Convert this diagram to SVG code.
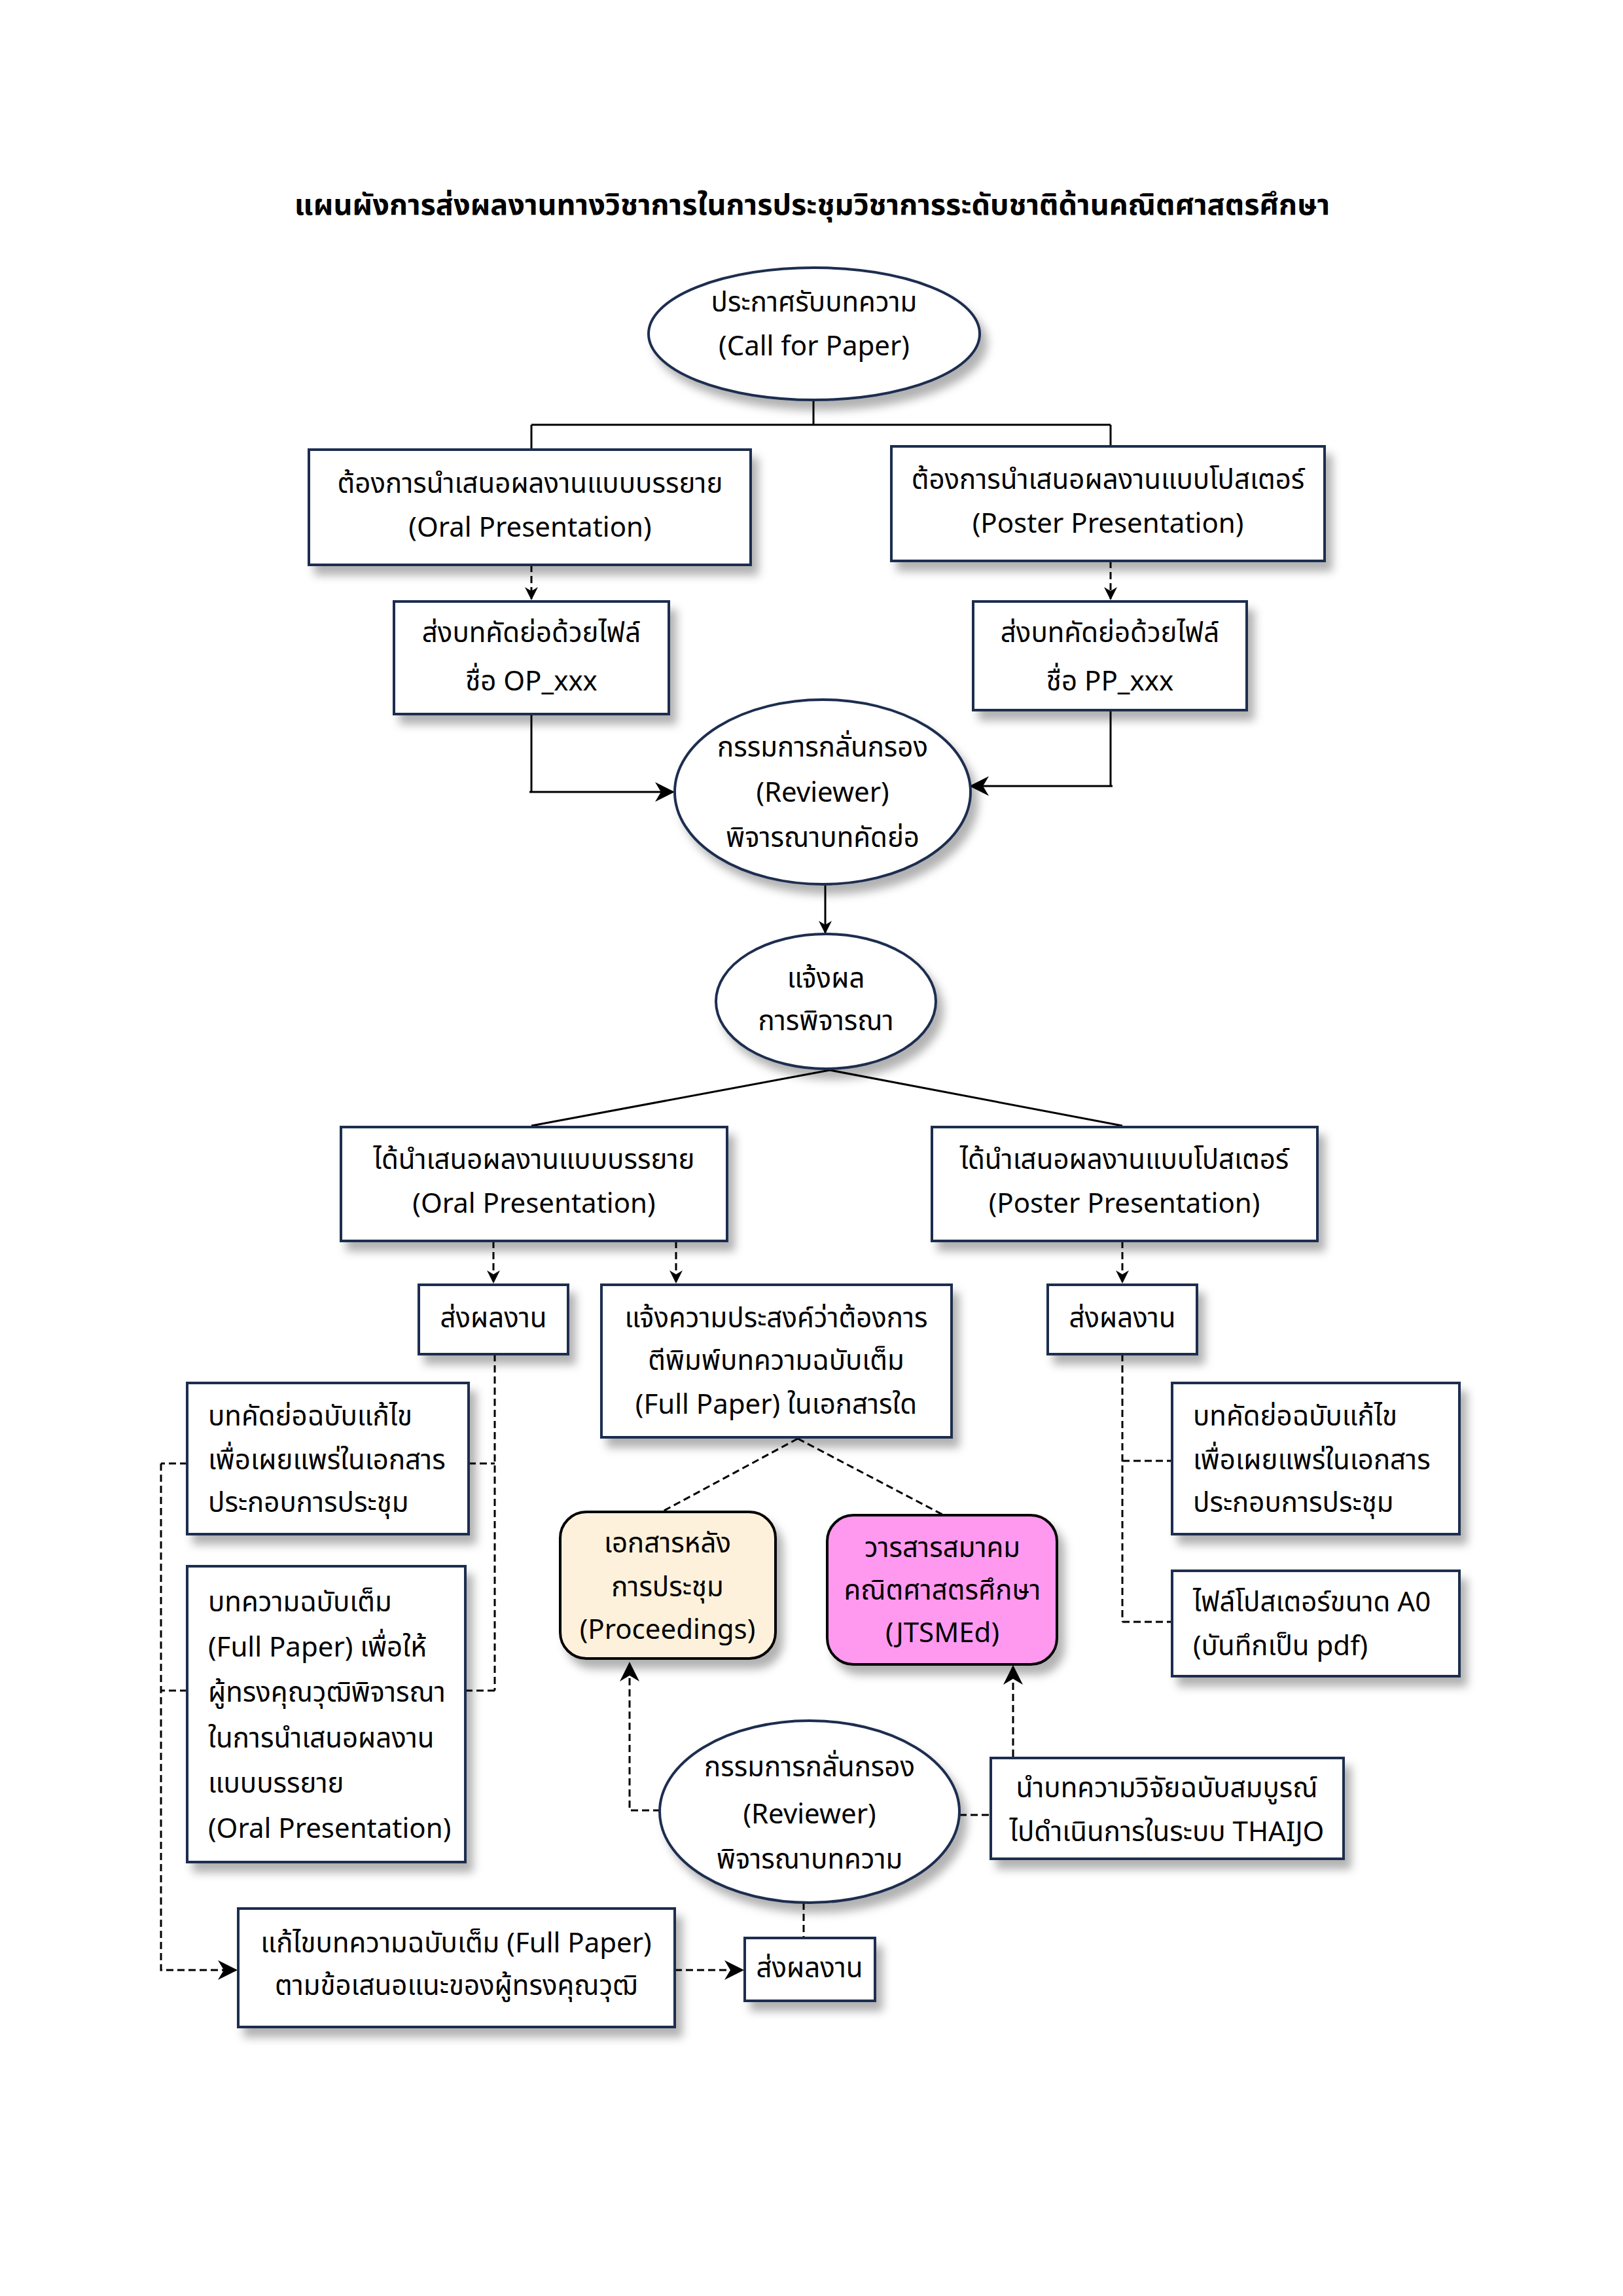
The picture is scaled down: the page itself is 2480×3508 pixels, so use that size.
<svg xmlns="http://www.w3.org/2000/svg" width="2480" height="3508" viewBox="0 0 2480 3508">
<defs>
<filter id="sh" x="-10%" y="-10%" width="130%" height="140%">
<feDropShadow dx="10" dy="14" stdDeviation="7" flood-color="#000" flood-opacity="0.3"/>
</filter>
<marker id="ah" viewBox="0 0 20 20" refX="18" refY="10" markerWidth="20" markerHeight="20" markerUnits="userSpaceOnUse" orient="auto">
<path d="M0,0 L20,10 L0,20 L6,10 Z" fill="#000"/>
</marker>
<marker id="ahb" viewBox="0 0 20 20" refX="18" refY="10" markerWidth="30" markerHeight="30" markerUnits="userSpaceOnUse" orient="auto">
<path d="M0,0 L20,10 L0,20 L6,10 Z" fill="#000"/>
</marker>
</defs>
<style>
text{font-family:"Noto Sans Thai","Noto Sans","Liberation Sans",sans-serif;font-size:42px;fill:#000}
.c{text-anchor:middle}
.t{font-size:45px;font-weight:bold}
.bx{fill:#fff;stroke:#1f2d4f;stroke-width:4}
.el{fill:#fff;stroke:#1f2d4f;stroke-width:4}
.ln{fill:none;stroke:#000;stroke-width:3}
.dl{fill:none;stroke:#000;stroke-width:3;stroke-dasharray:11 6}
</style>
<rect width="2480" height="3508" fill="#fff"/>
<text class="c t" x="1241" y="328">แผนผังการส่งผลงานทางวิชาการในการประชุมวิชาการระดับชาติด้านคณิตศาสตรศึกษา</text>

<g id="connectors">
<path class="ln" d="M1243,611 V649 M812,649 H1697 M812,649 V687 M1697,649 V682"/>
<path class="dl" d="M812,863 V915" marker-end="url(#ah)"/>
<path class="dl" d="M1697,857 V915" marker-end="url(#ah)"/>
<path class="ln" d="M812,1091 V1210"/>
<path class="ln" stroke-width="7" d="M809,1210 H1028" marker-end="url(#ahb)"/>
<path class="ln" d="M1697,1085 V1201"/>
<path class="ln" stroke-width="7" d="M1700,1201 H1484" marker-end="url(#ahb)"/>
<path class="ln" d="M1261,1353 V1425" marker-end="url(#ah)"/>
<path class="ln" stroke-width="7" d="M1268,1635 L812,1720 M1268,1635 L1715,1720"/>
<path class="dl" d="M754,1896 V1959" marker-end="url(#ah)"/>
<path class="dl" d="M1033,1896 V1959" marker-end="url(#ah)"/>
<path class="dl" d="M1715,1896 V1959" marker-end="url(#ah)"/>
<path class="dl" d="M756,2069 V2583 M716,2236 H756 M711,2583 H756"/>
<path class="dl" d="M286,2236 H246 M286,2583 H246 M246,2236 V3010 H360" marker-end="url(#ahb)"/>
<path class="dl" d="M1219,2198 L1011,2310 M1219,2198 L1442,2315"/>
<path class="dl" d="M1009,2766 H962 V2542" marker-end="url(#ahb)"/>
<path class="dl" d="M1466,2773 H1514"/>
<path class="dl" d="M1548,2684 V2547" marker-end="url(#ahb)"/>
<path class="dl" d="M1228,2907 V2961"/>
<path class="dl" d="M1031,3010 H1134" marker-end="url(#ahb)"/>
<path class="dl" d="M1715,2069 V2478 M1715,2232 H1791 M1715,2478 H1791"/>
</g>

<g id="n1"><ellipse class="el" filter="url(#sh)" cx="1244" cy="510" rx="253" ry="101"/>
<text class="c" x="1244" y="476">ประกาศรับบทความ</text><text class="c" x="1244" y="543">(Call for Paper)</text></g>

<g id="n2"><rect class="bx" filter="url(#sh)" x="472" y="687" width="675" height="176"/>
<text class="c" x="810" y="753">ต้องการนำเสนอผลงานแบบบรรยาย</text><text class="c" x="810" y="820">(Oral Presentation)</text></g>

<g id="n3"><rect class="bx" filter="url(#sh)" x="1362" y="682" width="662" height="175"/>
<text class="c" x="1693" y="747">ต้องการนำเสนอผลงานแบบโปสเตอร์</text><text class="c" x="1693" y="814">(Poster Presentation)</text></g>

<g id="n4"><rect class="bx" filter="url(#sh)" x="602" y="919" width="420" height="172"/>
<text class="c" x="812" y="981">ส่งบทคัดย่อด้วยไฟล์</text><text class="c" x="812" y="1055">ชื่อ OP_xxx</text></g>

<g id="n5"><rect class="bx" filter="url(#sh)" x="1487" y="919" width="418" height="166"/>
<text class="c" x="1696" y="981">ส่งบทคัดย่อด้วยไฟล์</text><text class="c" x="1696" y="1055">ชื่อ PP_xxx</text></g>

<g id="n6"><ellipse class="el" filter="url(#sh)" cx="1257" cy="1210" rx="226" ry="141"/>
<text class="c" x="1257" y="1156">กรรมการกลั่นกรอง</text><text class="c" x="1257" y="1225">(Reviewer)</text><text class="c" x="1257" y="1294">พิจารณาบทคัดย่อ</text></g>

<g id="n7"><ellipse class="el" filter="url(#sh)" cx="1262" cy="1530" rx="168" ry="103"/>
<text class="c" x="1262" y="1509">แจ้งผล</text><text class="c" x="1262" y="1574">การพิจารณา</text></g>

<g id="n8"><rect class="bx" filter="url(#sh)" x="521" y="1722" width="590" height="174"/>
<text class="c" x="816" y="1786">ได้นำเสนอผลงานแบบบรรยาย</text><text class="c" x="816" y="1853">(Oral Presentation)</text></g>

<g id="n9"><rect class="bx" filter="url(#sh)" x="1424" y="1722" width="589" height="174"/>
<text class="c" x="1718" y="1786">ได้นำเสนอผลงานแบบโปสเตอร์</text><text class="c" x="1718" y="1853">(Poster Presentation)</text></g>

<g id="n10"><rect class="bx" filter="url(#sh)" x="640" y="1963" width="228" height="106"/>
<text class="c" x="754" y="2028">ส่งผลงาน</text></g>

<g id="n11"><rect class="bx" filter="url(#sh)" x="919" y="1963" width="535" height="233"/>
<text class="c" x="1186" y="2028">แจ้งความประสงค์ว่าต้องการ</text><text class="c" x="1186" y="2093">ตีพิมพ์บทความฉบับเต็ม</text><text class="c" x="1186" y="2160">(Full Paper) ในเอกสารใด</text></g>

<g id="n12"><rect class="bx" filter="url(#sh)" x="1601" y="1963" width="228" height="106"/>
<text class="c" x="1715" y="2028">ส่งผลงาน</text></g>

<g id="n13"><rect class="bx" filter="url(#sh)" x="286" y="2113" width="430" height="231"/>
<text x="318" y="2178">บทคัดย่อฉบับแก้ไข</text><text x="318" y="2245">เพื่อเผยแพร่ในเอกสาร</text><text x="318" y="2310">ประกอบการประชุม</text></g>

<g id="n14"><rect class="bx" filter="url(#sh)" x="286" y="2393" width="425" height="452"/>
<text x="318" y="2462">บทความฉบับเต็ม</text><text x="318" y="2531">(Full Paper) เพื่อให้</text><text x="318" y="2600">ผู้ทรงคุณวุฒิพิจารณา</text><text x="318" y="2670">ในการนำเสนอผลงาน</text><text x="318" y="2739">แบบบรรยาย</text><text x="318" y="2808">(Oral Presentation)</text></g>

<g id="n15"><rect filter="url(#sh)" x="856" y="2310" width="329" height="224" rx="40" fill="#fdf1db" stroke="#000" stroke-width="4"/>
<text class="c" x="1020" y="2372">เอกสารหลัง</text><text class="c" x="1020" y="2439">การประชุม</text><text class="c" x="1020" y="2504">(Proceedings)</text></g>

<g id="n16"><rect filter="url(#sh)" x="1264" y="2315" width="351" height="228" rx="40" fill="#ff99f0" stroke="#000" stroke-width="4"/>
<text class="c" x="1440" y="2379">วารสารสมาคม</text><text class="c" x="1440" y="2444">คณิตศาสตรศึกษา</text><text class="c" x="1440" y="2509">(JTSMEd)</text></g>

<g id="n17"><rect class="bx" filter="url(#sh)" x="1791" y="2113" width="439" height="231"/>
<text x="1823" y="2178">บทคัดย่อฉบับแก้ไข</text><text x="1823" y="2245">เพื่อเผยแพร่ในเอกสาร</text><text x="1823" y="2310">ประกอบการประชุม</text></g>

<g id="n18"><rect class="bx" filter="url(#sh)" x="1791" y="2400" width="439" height="161"/>
<text x="1823" y="2462">ไฟล์โปสเตอร์ขนาด A0</text><text x="1823" y="2529">(บันทึกเป็น pdf)</text></g>

<g id="n19"><ellipse class="el" filter="url(#sh)" cx="1237" cy="2768" rx="229" ry="139"/>
<text class="c" x="1237" y="2714">กรรมการกลั่นกรอง</text><text class="c" x="1237" y="2786">(Reviewer)</text><text class="c" x="1237" y="2855">พิจารณาบทความ</text></g>

<g id="n20"><rect class="bx" filter="url(#sh)" x="1514" y="2686" width="539" height="154"/>
<text class="c" x="1783" y="2746">นำบทความวิจัยฉบับสมบูรณ์</text><text class="c" x="1783" y="2813">ไปดำเนินการในระบบ THAIJO</text></g>

<g id="n21"><rect class="bx" filter="url(#sh)" x="1138" y="2961" width="199" height="96"/>
<text class="c" x="1237" y="3021">ส่งผลงาน</text></g>

<g id="n22"><rect class="bx" filter="url(#sh)" x="364" y="2916" width="667" height="181"/>
<text class="c" x="697" y="2983">แก้ไขบทความฉบับเต็ม (Full Paper)</text><text class="c" x="697" y="3048">ตามข้อเสนอแนะของผู้ทรงคุณวุฒิ</text></g>
</svg>
